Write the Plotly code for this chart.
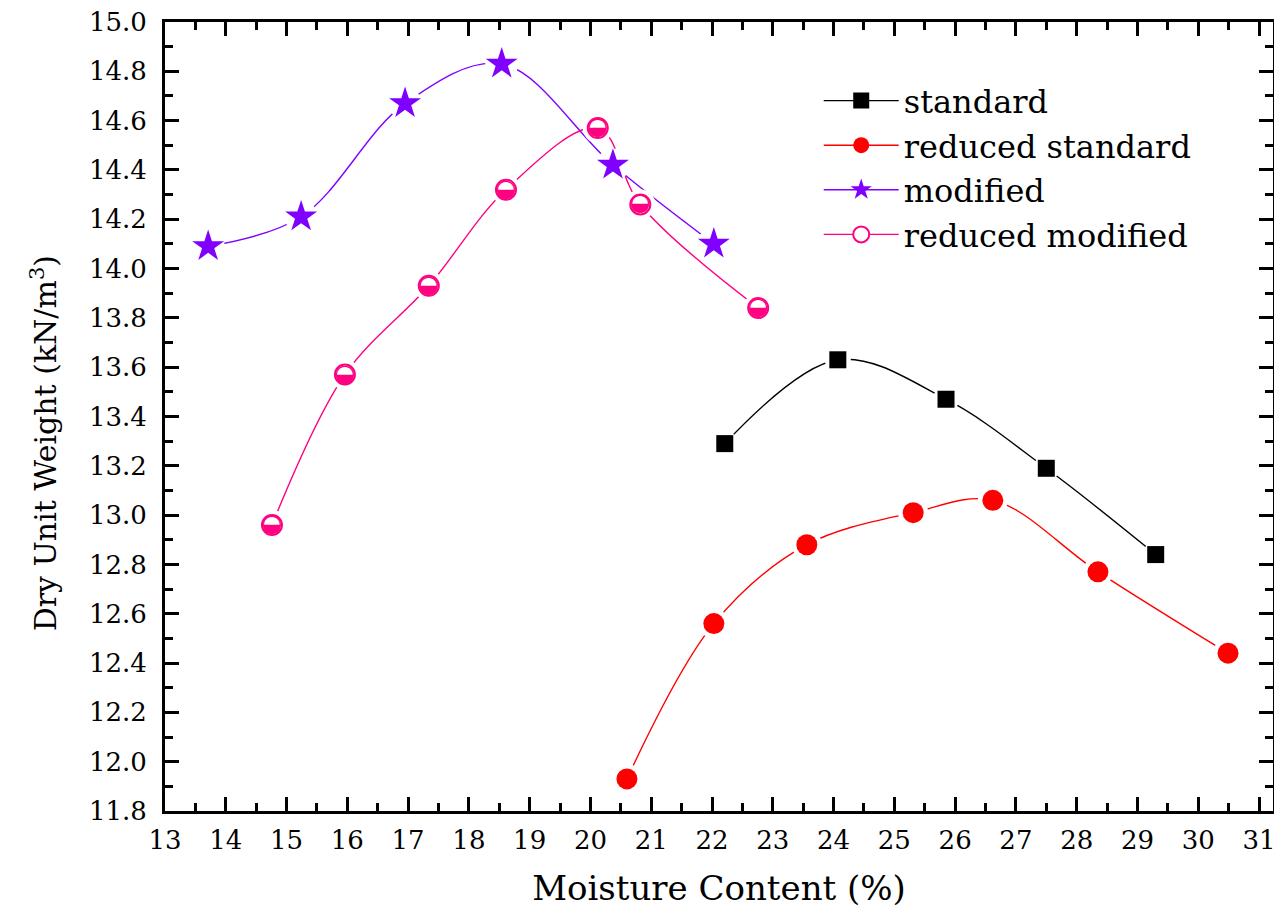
import plotly.graph_objects as go

# ---------------- data ----------------
std_x = [22.21, 24.07, 25.85, 27.50, 29.30]
std_y = [13.29, 13.63, 13.47, 13.19, 12.84]

rstd_x = [20.60, 22.03, 23.56, 25.31, 26.62, 28.35, 30.49]
rstd_y = [11.93, 12.56, 12.88, 13.01, 13.06, 12.77, 12.44]

mod_x = [13.71, 15.24, 16.95, 18.54, 20.37, 22.03]
mod_y = [14.09, 14.21, 14.67, 14.83, 14.42, 14.10]

rmod_x = [14.76, 15.96, 17.34, 18.61, 20.12, 20.82, 22.76]
rmod_y = [12.96, 13.57, 13.93, 14.32, 14.57, 14.26, 13.84]

series_names = ["standard", "reduced standard", "modified", "reduced modified"]
x_ticks = list(range(13, 32))
y_ticks = [round(11.8 + 0.2 * i, 1) for i in range(17)]

# ---------------- style ----------------
BLACK = "#000000"
RED = "#FF0000"
PURPLE = "#8000FF"
PINK = "#FF0080"
FONT = "DejaVu Serif"

series = [
    (std_x, std_y, BLACK, "square", 17),
    (rstd_x, rstd_y, RED, "circle", 21),
    (mod_x, mod_y, PURPLE, "star", 24),
    (rmod_x, rmod_y, PINK, "half", 21),
]

fig = go.Figure()

# smooth lines
for (xs, ys, col, sym, sz), name in zip(series, series_names):
    fig.add_trace(go.Scatter(x=xs, y=ys, mode="lines",
                             line=dict(color=col, width=1.4, shape="spline", smoothing=1.0),
                             showlegend=False, hoverinfo="skip"))

# white masks giving the gap around markers
for (xs, ys, col, sym, sz), name in zip(series, series_names):
    fig.add_trace(go.Scatter(x=xs, y=ys, mode="markers",
                             marker=dict(symbol="circle", size=sz + 9, color="white"),
                             showlegend=False, hoverinfo="skip"))

# markers
for (xs, ys, col, sym, sz), name in zip(series, series_names):
    if sym == "half":
        fig.add_trace(go.Scatter(x=xs, y=ys, mode="markers",
                                 marker=dict(symbol="circle", size=sz - 1, color="white",
                                             line=dict(color=col, width=2)),
                                 showlegend=False, hoverinfo="skip"))
        fig.add_trace(go.Scatter(x=xs, y=ys, mode="text", text=["◒"] * len(xs),
                                 textposition="middle center",
                                 textfont=dict(family="DejaVu Sans", size=24, color=col),
                                 showlegend=False, hoverinfo="skip"))
    else:
        fig.add_trace(go.Scatter(x=xs, y=ys, mode="markers",
                                 marker=dict(symbol=sym, size=sz, color=col),
                                 showlegend=False, hoverinfo="skip"))

# legend entries
for (xs, ys, col, sym, sz), name in zip(series, series_names):
    if sym == "half":
        mk = dict(symbol="circle", size=sz - 1, color="white", line=dict(color=col, width=2))
    else:
        mk = dict(symbol=sym, size=sz, color=col)
    fig.add_trace(go.Scatter(x=[None], y=[None], mode="lines+markers", name=name,
                             line=dict(color=col, width=1.4), marker=mk))

axis_common = dict(
    showgrid=False, zeroline=False, automargin=False,
    showline=True, linecolor="black", linewidth=3, mirror="ticks",
    ticks="inside", ticklen=14, tickwidth=3, tickcolor="black",
    tickfont=dict(family=FONT, size=26, color="black"),
    ticklabeloverflow="allow",
)

fig.update_xaxes(**axis_common, range=[13, 31.23], tickvals=x_ticks,
                 ticktext=[str(v) for v in x_ticks], ticklabelstandoff=4,
                 minor=dict(ticks="inside", ticklen=8, tickwidth=3, tickcolor="black", dtick=0.5),
                 title=dict(text="Moisture Content (%)", font=dict(family=FONT, size=34, color="black"),
                            standoff=29))
fig.update_yaxes(**axis_common, range=[11.8, 15.0], tickvals=y_ticks,
                 ticktext=[f"{v:.1f}" for v in y_ticks], ticklabelstandoff=10,
                 minor=dict(ticks="inside", ticklen=8, tickwidth=3, tickcolor="black", dtick=0.1))

# y-axis title (placed slightly below the axis centre, as in the reference)
fig.add_annotation(text="Dry Unit Weight (kN/m<sup>3</sup>)", textangle=-90,
                   xref="paper", yref="paper", x=0, y=0.466, xshift=-121,
                   xanchor="center", yanchor="middle", showarrow=False,
                   font=dict(family=FONT, size=30, color="black"))

# page body has an 8px default margin, so the figure is sized/offset for that
fig.update_layout(
    width=1272, height=900,
    paper_bgcolor="white", plot_bgcolor="white",
    margin=dict(l=157, r=7, t=14, b=97),
    legend=dict(x=0.590, y=0.935, xanchor="left", yanchor="top",
                bgcolor="rgba(0,0,0,0)", borderwidth=0,
                font=dict(family=FONT, size=32, color="black"),
                tracegroupgap=0, itemwidth=75),
    showlegend=True,
)

fig.write_html("out.html")
